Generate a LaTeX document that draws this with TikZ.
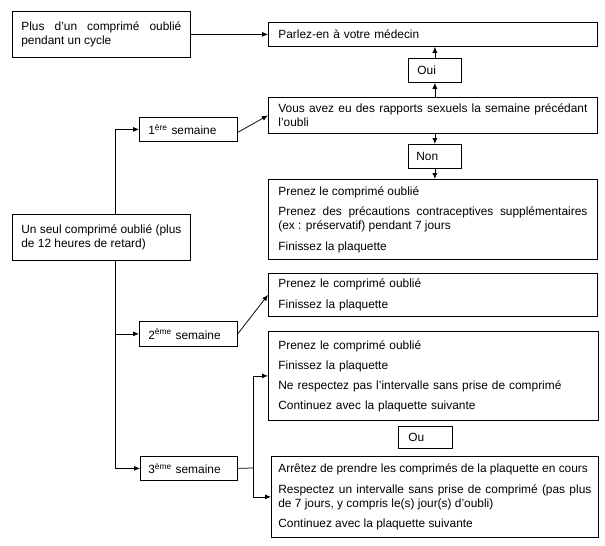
\documentclass[tikz,border=0pt]{standalone}
\usepackage{fontspec}
\setmainfont{Liberation Sans}
\usetikzlibrary{arrows.meta}
\newcommand\fs{\fontsize{11.9}{14}\selectfont\hyphenpenalty=10000\exhyphenpenalty=10000}
\begin{document}
\begin{tikzpicture}[x=1pt,y=-1pt,
 box/.style={draw, line width=0.75pt, anchor=north west, inner ysep=0pt, font=\fs, align=justify},
 arr/.style={line width=0.75pt, -{Latex[length=6pt,width=5pt]}},
 ln/.style={line width=0.75pt}]
\useasboundingbox (0,0) rectangle (605,546);
\node[box, inner xsep=9pt, text width=160pt, minimum height=46pt] (plus) at (12,11) {Plus d’un comprimé oublié pendant un cycle};
\node[box, inner xsep=10pt, text width=309pt, minimum height=24pt, align=left] (med) at (268,22) {Parlez-en à votre médecin};
\node[box, inner xsep=9pt, text width=35pt, minimum height=24pt, align=left] (oui) at (408,58) {Oui};
\node[box, inner xsep=10pt, text width=309pt, minimum height=36pt] (vous) at (268,97) {Vous avez eu des rapports sexuels la semaine précédant l’oubli};
\node[box, inner xsep=8pt, text width=37pt, minimum height=24pt, align=left] (non) at (408,144) {Non};
\node[box, inner xsep=10pt, text width=309pt, minimum height=80pt] (b1) at (268,179) {Prenez le comprimé oublié\\[6.5pt] Prenez des précautions contraceptives supplémentaires (ex~: préservatif) pendant 7 jours\\[6.5pt] Finissez la plaquette};
\node[box, inner xsep=9pt, text width=80pt, minimum height=24pt, align=left] (s1) at (139,117) {1\textsuperscript{ère} semaine};
\node[box, inner xsep=9pt, text width=160pt, minimum height=46pt] (us) at (12,214) {Un seul comprimé oublié (plus de 12 heures de retard)};
\node[box, inner xsep=10pt, text width=309pt, minimum height=43pt, align=left] (b2) at (268,273) {Prenez le comprimé oublié\\[6.5pt] Finissez la plaquette};
\node[box, inner xsep=9pt, text width=80pt, minimum height=25pt, align=left] (s2) at (139,321) {2\textsuperscript{ème} semaine};
\node[box, inner xsep=10pt, text width=310pt, minimum height=89pt, align=left] (b3) at (268,331) {Prenez le comprimé oublié\\[6pt] Finissez la plaquette\\[6pt] Ne respectez pas l’intervalle sans prise de comprimé\\[6pt] Continuez avec la plaquette suivante};
\node[box, inner xsep=10pt, text width=34pt, minimum height=22pt, align=left] (ou) at (398,426) {Ou};
\node[box, inner xsep=7pt, text width=313pt, minimum height=81pt] (b4) at (271,456) {Arrêtez de prendre les comprimés de la plaquette en cours\\[6.5pt] Respectez un intervalle sans prise de comprimé (pas plus de 7 jours, y compris le(s) jour(s) d’oubli)\\[6.5pt] Continuez avec la plaquette suivante};
\node[box, inner xsep=8pt, text width=81pt, minimum height=24pt, align=left] (s3) at (140,456) {3\textsuperscript{ème} semaine};
\draw[arr] (plus.east) -- (med.west);
\draw[arr] (vous.north -| oui) -- (oui.south);
\draw[arr] (oui.north) -- (med.south -| oui);
\draw[arr] (vous.south -| non) -- (non.north);
\draw[arr] (non.south) -- (b1.north -| non);
\coordinate (v) at (115,0);
\draw[arr] (us.north -| v) |- (s1.west);
\draw[arr] (us.south -| v) |- (s3.west);
\draw[arr] (s2.west -| v) -- (s2.west);
\draw[arr] ([yshift=-3pt]s1.east) -- (vous.west);
\draw[arr] (s2.east) -- (b2.west);
\coordinate (j) at (253,468);
\draw[ln] (s3.east) -- (j);
\draw[arr] (j) |- (b3.west);
\draw[arr] (j) |- (b4.west);
\end{tikzpicture}
\end{document}
